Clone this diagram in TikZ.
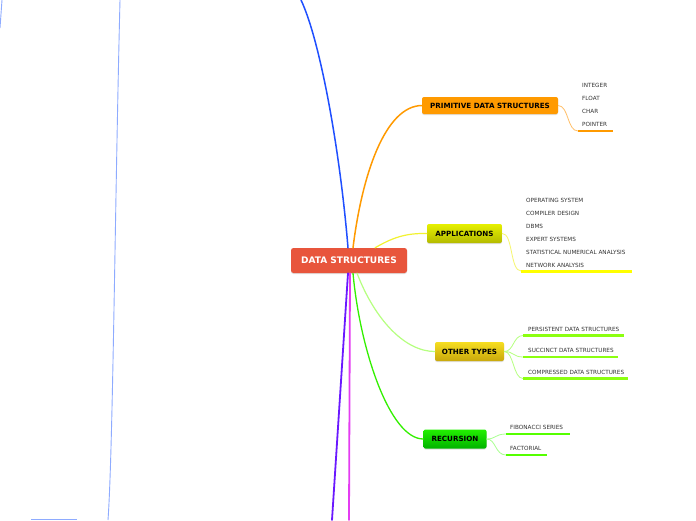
\documentclass[tikz,border=0pt]{standalone}
\usepackage{fontspec}
\setmainfont{DejaVu Sans}
\usetikzlibrary{shadows}
\definecolor{cred}{HTML}{E8553C}
\definecolor{corange}{HTML}{FF9A00}
\definecolor{corangel}{HTML}{FFC06A}
\definecolor{cyel}{HTML}{F2F230}
\definecolor{cyelu}{HTML}{FFFF00}
\definecolor{cappt}{HTML}{E6F000}
\definecolor{cappb}{HTML}{B4BA00}
\definecolor{cothT}{HTML}{F6DE20}
\definecolor{cothB}{HTML}{C9A80C}
\definecolor{crecT}{HTML}{22F000}
\definecolor{crecB}{HTML}{00B200}
\definecolor{clime}{HTML}{8CFF10}
\definecolor{climel}{HTML}{B6FF80}
\definecolor{cgreen}{HTML}{33F000}
\definecolor{cgreenu}{HTML}{55FF00}
\definecolor{cgreenl}{HTML}{A8FF90}
\definecolor{cblue}{HTML}{1F4FFF}
\definecolor{cbluel}{HTML}{8EABFF}
\definecolor{cpurple}{HTML}{6A18FF}
\definecolor{cmag}{HTML}{E43CF2}
\definecolor{ctext}{HTML}{333333}
\tikzset{
  mainbox/.style={rounded corners=2pt, inner sep=0pt, font=\fontsize{7.15}{8}\selectfont\bfseries, text=black,
     drop shadow={shadow xshift=0pt, shadow yshift=-1pt, opacity=0.25}},
  rootbox/.style={rounded corners=2.5pt, inner sep=0pt, fill=cred, text=white,
     font=\fontsize{9}{10}\selectfont\bfseries, minimum width=116pt, minimum height=25pt,
     drop shadow={shadow xshift=0pt, shadow yshift=-1pt, opacity=0.25}},
  leaf/.style={anchor=west, inner sep=0pt, text=ctext, font=\fontsize{5.7}{6.5}\selectfont},
  branch/.style={line width=1.5pt, line cap=round},
  twig/.style={line width=0.8pt, line cap=round},
  uline/.style={line width=2.6pt},
}
\begin{document}
\begin{tikzpicture}[x=1pt,y=-1pt]
\useasboundingbox (0,0) rectangle (696,520);
\fill[white] (0,0) rectangle (696,520);

% off-canvas branch remnants
\coordinate (lbtop) at (120,0);
\coordinate (lbbot) at (108,520);
\coordinate (lbl1) at (2,0);
\coordinate (lbl2) at (0,28);
\coordinate (lbh1) at (31,519);
\coordinate (lbh2) at (77,519);
\draw[cbluel, line width=0.9pt] (lbtop) .. controls (115,200) and (113,450) .. (lbbot);
\draw[cbluel, line width=0.9pt] (lbl1) -- (lbl2);
\draw[cbluel, line width=1pt] (lbh1) -- (lbh2);

% root
\node[rootbox] (root) at (349,260.5) {DATA STRUCTURES};

\coordinate (blueend) at (301,0);
\coordinate (purpend) at (332,520);
\coordinate (magend) at (349,520);

% main nodes
\node[mainbox, fill=corange, minimum width=136pt, minimum height=17pt] (prim) at (490,105.5) {PRIMITIVE DATA STRUCTURES};
\node[mainbox, top color=cappt, bottom color=cappb, minimum width=75pt, minimum height=19pt] (app) at (464.5,233.5) {APPLICATIONS};
\node[mainbox, top color=cothT, bottom color=cothB, minimum width=69pt, minimum height=19pt] (oth) at (469.5,351.5) {OTHER TYPES};
\node[mainbox, top color=crecT, bottom color=crecB, minimum width=63pt, minimum height=19pt] (rec) at (455,439) {RECURSION};

% branches from root
\draw[branch, cblue] ([xshift=-1pt]root.north) .. controls (340,150) and (320,40) .. (blueend);
\draw[branch, corange] ([xshift=4pt]root.north) .. controls (362,175) and (385,106) .. (prim.west);
\draw[branch, cyel, line width=1.2pt] ([xshift=26pt]root.north) .. controls (392,238) and (405,233) .. (app.west);
\draw[branch, cpurple, line width=1.8pt] ([xshift=-1pt]root.south) -- (purpend);
\draw[branch, cmag, line width=1.8pt] ([xshift=1pt]root.south) -- (magend);
\draw[branch, cgreen, line width=1.3pt] ([xshift=4pt]root.south) .. controls (360,350) and (390,439) .. (rec.west);
\draw[branch, climel, line width=1.2pt] ([xshift=8pt]root.south) .. controls (375,320) and (405,351.5) .. (oth.west);

% primitive children
\node[leaf] (integer) at (582,85) {INTEGER};
\node[leaf] (float) at (582,98) {FLOAT};
\node[leaf] (char) at (582,111) {CHAR};
\node[leaf] (pointer) at (582,124) {POINTER};
\coordinate (pu1) at (578,131);
\coordinate (pu2) at (613,131);
\draw[twig, corangel] (prim.east) .. controls (569,106) and (567,131) .. (pu1);
\draw[uline, corange] (pu1) -- (pu2);

% applications children
\node[leaf] (os) at (526,200) {OPERATING SYSTEM};
\node[leaf] (cd) at (526,213) {COMPILER DESIGN};
\node[leaf] (dbms) at (526,226) {DBMS};
\node[leaf] (es) at (526,239) {EXPERT SYSTEMS};
\node[leaf] (sna) at (526,252) {STATISTICAL NUMERICAL ANALYSIS};
\node[leaf] (na) at (526,265) {NETWORK ANALYSIS};
\coordinate (au1) at (521,271);
\coordinate (au2) at (632,271);
\draw[twig, cyel!70] (app.east) .. controls (513,233) and (510,271) .. (au1);
\draw[uline, cyelu, line width=3pt] (au1) -- (au2);

% other types children
\node[leaf] (pers) at (528,329) {PERSISTENT DATA STRUCTURES};
\node[leaf] (succ) at (528,350) {SUCCINCT DATA STRUCTURES};
\node[leaf] (comp) at (528,372) {COMPRESSED DATA STRUCTURES};
\coordinate (ou1a) at (523,335.5);
\coordinate (ou1b) at (624,335.5);
\coordinate (ou2a) at (523,357);
\coordinate (ou2b) at (618,357);
\coordinate (ou3a) at (523,378.5);
\coordinate (ou3b) at (628,378.5);
\draw[twig, climel] (oth.east) .. controls (514,351.5) and (513,335.5) .. (ou1a);
\draw[twig, climel] (oth.east) .. controls (514,351.5) and (513,357) .. (ou2a);
\draw[twig, climel] (oth.east) .. controls (514,351.5) and (513,378.5) .. (ou3a);
\draw[uline, clime] (ou1a) -- (ou1b);
\draw[uline, clime] (ou2a) -- (ou2b);
\draw[uline, clime] (ou3a) -- (ou3b);

% recursion children
\node[leaf] (fib) at (510,427) {FIBONACCI SERIES};
\node[leaf] (fact) at (510,448) {FACTORIAL};
\coordinate (ru1a) at (506,434);
\coordinate (ru1b) at (570,434);
\coordinate (ru2a) at (506,455);
\coordinate (ru2b) at (547,455);
\draw[twig, cgreenl] (rec.east) .. controls (496,439) and (495,434) .. (ru1a);
\draw[twig, cgreenl] (rec.east) .. controls (496,439) and (495,455) .. (ru2a);
\draw[uline, cgreenu] (ru1a) -- (ru1b);
\draw[uline, cgreenu] (ru2a) -- (ru2b);
\end{tikzpicture}
\end{document}
